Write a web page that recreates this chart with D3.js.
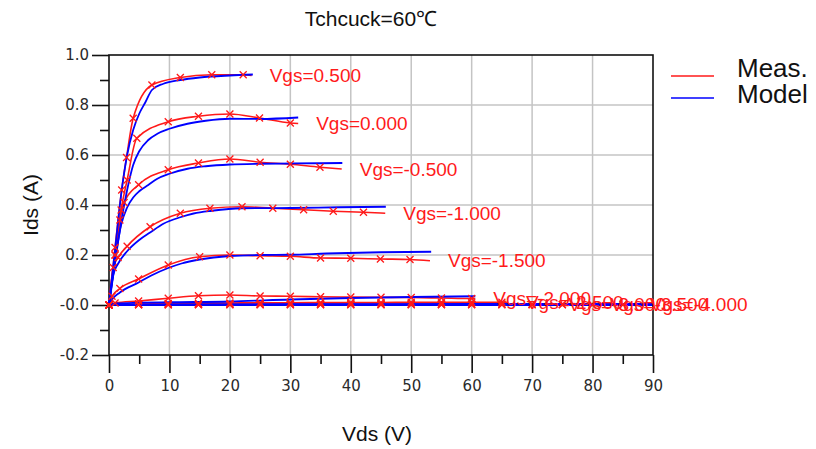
<!DOCTYPE html>
<html>
<head>
<meta charset="utf-8">
<script src="https://cdn.jsdelivr.net/npm/d3@7"></script>
<style>
  html, body { margin: 0; padding: 0; background: #fff; }
  svg { display: block; }
</style>
</head>
<body>
<svg id="chart" width="816" height="449"></svg>
<script>
// ---------- labels ----------
const chartTitle = "Tchcuck=60℃";
const xTitle = "Vds (V)";
const yTitle = "Ids (A)";
const legendNames = ["Meas.", "Model"];

const xTickValues = [0, 10, 20, 30, 40, 50, 60, 70, 80, 90];
const xTickLabels = ["0", "10", "20", "30", "40", "50", "60", "70", "80", "90"];
const xMinorTicks = [5, 15, 25, 35, 45, 55, 65, 75, 85];
const yTickValues = [-0.2, 0.0, 0.2, 0.4, 0.6, 0.8, 1.0];
const yTickLabels = ["-0.2", "-0.0", "0.2", "0.4", "0.6", "0.8", "1.0"];
const yMinorTicks = [-0.1, 0.1, 0.3, 0.5, 0.7, 0.9];

const vgsLabels = ["Vgs=0.500", "Vgs=0.000", "Vgs=-0.500", "Vgs=-1.000", "Vgs=-1.500",
                   "Vgs=-2.000", "Vgs=-2.500", "Vgs=-3.000", "Vgs=-3.500", "Vgs=-4.000"];

// ---------- measured Ids-Vds, [Vds (V), Ids (A)] ----------
const measVgsP050 = [[0,0],[1,0.23],[2.1,0.46],[2.9,0.59],[4,0.747],[7.1,0.88],[11.8,0.91],[17,0.921],[22.2,0.921],[23.6,0.918]];
const measVgs0000 = [[0,0],[1,0.2],[2,0.38],[3,0.5],[4.6,0.667],[9.8,0.733],[14.8,0.755],[20,0.764],[24.9,0.748],[30,0.728],[31.3,0.726]];
const measVgsN050 = [[0,0],[1,0.2],[1.8,0.34],[2.5,0.41],[4.9,0.481],[9.8,0.541],[14.8,0.568],[20,0.584],[25,0.571],[30,0.563],[34.9,0.551],[38.5,0.544]];
const measVgsN100 = [[0,0],[0.7,0.15],[1.5,0.19],[3,0.235],[6.8,0.313],[11.8,0.367],[16.7,0.387],[22,0.393],[27.1,0.387],[32.2,0.381],[37.1,0.375],[42.1,0.371],[45.7,0.367]];
const measVgsN150 = [[0,0],[0.5,0.035],[1.8,0.066],[4.9,0.104],[9.8,0.16],[15,0.193],[20,0.2],[25,0.197],[30,0.195],[35,0.188],[40,0.187],[44.9,0.184],[49.8,0.182],[53.1,0.177]];
const measVgsN200 = [[0,0],[1,0.008],[4.9,0.016],[9.8,0.027],[14.8,0.037],[20,0.04],[25,0.036],[30,0.035],[35,0.033],[40,0.032],[45,0.031],[50,0.03],[55,0.028],[60,0.026],[60.6,0.026]];
const measVgsN250 = [[0,0],[4.9,0.004],[9.8,0.006],[14.8,0.007],[20,0.008],[25,0.009],[30,0.009],[35,0.01],[40,0.01],[45,0.01],[50,0.011],[55,0.011],[60,0.011],[65,0.011],[66,0.011]];
const measVgsN300 = [[0,0],[4.9,0.002],[9.8,0.003],[14.8,0.003],[20,0.004],[25,0.004],[30,0.004],[35,0.004],[40,0.004],[45,0.004],[50,0.004],[55,0.004],[60,0.004],[65,0.004],[70,0.004],[73,0.004]];
const measVgsN350 = [[0,0],[4.9,0.001],[9.8,0.001],[14.8,0.002],[20,0.002],[25,0.002],[30,0.002],[35,0.002],[40,0.002],[45,0.002],[50,0.002],[55,0.002],[60,0.002],[65,0.002],[70,0.002],[75,0.002],[80,0.002]];
const measVgsN400 = [[0,0],[4.9,0.001],[9.8,0.001],[14.8,0.001],[20,0.001],[25,0.001],[30,0.001],[35,0.001],[40,0.001],[45,0.001],[50,0.001],[55,0.001],[60,0.001],[65,0.001],[70,0.001],[75,0.001],[80,0.001],[85,0.001],[86.5,0.001]];

// ---------- model Ids-Vds, [Vds (V), Ids (A)] ----------
const modelVgsP050 = [[0,0],[1,0.22],[2,0.44],[3,0.6],[4,0.7],[5,0.765],[6,0.81],[7.1,0.86],[9,0.885],[11.8,0.9],[15,0.91],[20,0.918],[23.8,0.922]];
const modelVgs0000 = [[0,0],[1,0.17],[2,0.33],[3,0.46],[4,0.56],[5,0.615],[6.5,0.66],[8,0.685],[10,0.705],[13,0.725],[16,0.737],[20,0.745],[25,0.744],[31.3,0.75]];
const modelVgsN050 = [[0,0],[1,0.18],[2,0.32],[3,0.39],[4,0.43],[5,0.455],[6.5,0.48],[8,0.505],[10,0.525],[13,0.545],[16,0.555],[20,0.562],[25,0.565],[30,0.566],[35,0.567],[38.6,0.568]];
const modelVgsN100 = [[0,0],[0.7,0.12],[1.5,0.165],[3,0.215],[5,0.26],[6.8,0.29],[9,0.325],[11.8,0.351],[14,0.366],[17,0.377],[22,0.387],[30,0.388],[38,0.391],[45.8,0.393]];
const modelVgsN150 = [[0,0],[0.5,0.022],[1.8,0.05],[4.9,0.09],[7,0.118],[9.8,0.148],[12,0.166],[15,0.182],[20,0.196],[25,0.2],[30,0.201],[36,0.206],[45,0.211],[53.3,0.213]];
const modelVgsN200 = [[0,0],[1,0.006],[5,0.009],[10,0.011],[20,0.014],[30,0.022],[40,0.028],[50,0.032],[60.6,0.035]];
const modelVgsN250 = [[0,0],[10,0.002],[30,0.003],[60,0.004],[90,0.004]];
const modelVgsN300 = [[0,0],[20,0.001],[90,0.002]];
const modelVgsN350 = [[0,0],[90,0.001]];
const modelVgsN400 = [[0,0],[90,0]];

const measured = [measVgsP050, measVgs0000, measVgsN050, measVgsN100, measVgsN150,
                  measVgsN200, measVgsN250, measVgsN300, measVgsN350, measVgsN400];
const modeled = [modelVgsP050, modelVgs0000, modelVgsN050, modelVgsN100, modelVgsN150,
                 modelVgsN200, modelVgsN250, modelVgsN300, modelVgsN350, modelVgsN400];

// ---------- drawing ----------
const RED = "#ff1a1a", BLUE = "#0000ff", GRID = "#c4c4c4";
const svg = d3.select("#chart");
const plotLeft = 109, plotRight = 653, plotTop = 55, plotBottom = 355;

const x = d3.scaleLinear().domain([0, 90]).range([plotLeft, plotRight]);
const y = d3.scaleLinear().domain([-0.2, 1.0]).range([plotBottom, plotTop]);

// grid
const grid = svg.append("g");
grid.selectAll("line.vx").data(xTickValues.slice(1, -1)).join("line")
  .attr("x1", d => x(d)).attr("x2", d => x(d))
  .attr("y1", y(-0.2)).attr("y2", y(1.0))
  .attr("stroke", GRID).attr("stroke-width", 1.5);
grid.selectAll("line.hy").data(yTickValues.slice(1, -1)).join("line")
  .attr("y1", d => y(d)).attr("y2", d => y(d))
  .attr("x1", x(0)).attr("x2", x(90))
  .attr("stroke", GRID).attr("stroke-width", 1.5);

// frame
svg.append("rect")
  .attr("x", x(0)).attr("y", y(1.0))
  .attr("width", x(90) - x(0)).attr("height", y(-0.2) - y(1.0))
  .attr("fill", "none").attr("stroke", "#111").attr("stroke-width", 1.6);

function styleAxis(g) {
  g.select(".domain").remove();
  g.selectAll(".tick line").attr("stroke", "#111").attr("stroke-width", 1.6);
  g.selectAll(".tick text")
    .attr("fill", "#2a2a2a")
    .style("font-family", "'DejaVu Sans', Verdana, sans-serif")
    .style("font-size", "15px");
}

svg.append("g").attr("transform", `translate(0,${plotBottom})`)
  .call(d3.axisBottom(x).tickValues(xTickValues)
    .tickFormat((d, i) => xTickLabels[i]).tickSize(18).tickPadding(7))
  .call(styleAxis);
svg.append("g").attr("transform", `translate(0,${plotBottom})`)
  .call(d3.axisBottom(x).tickValues(xMinorTicks).tickFormat("").tickSize(9))
  .call(styleAxis);
svg.append("g").attr("transform", `translate(${plotLeft},0)`)
  .call(d3.axisLeft(y).tickValues(yTickValues)
    .tickFormat((d, i) => yTickLabels[i]).tickSize(17).tickPadding(3))
  .call(styleAxis);
svg.append("g").attr("transform", `translate(${plotLeft},0)`)
  .call(d3.axisLeft(y).tickValues(yMinorTicks).tickFormat("").tickSize(9))
  .call(styleAxis);

// traces
const line = d3.line().x(d => x(d[0])).y(d => y(d[1])).curve(d3.curveMonotoneX);
const traces = svg.append("g");
traces.selectAll("path.meas").data(measured).join("path")
  .attr("class", "meas")
  .attr("d", line).attr("fill", "none")
  .attr("stroke", RED).attr("stroke-width", 1.6);
traces.selectAll("path.model").data(modeled).join("path")
  .attr("class", "model")
  .attr("d", line).attr("fill", "none")
  .attr("stroke", BLUE).attr("stroke-width", 1.8);

// measurement symbols (sweep end point carries no symbol)
const markPts = measured.flatMap(s => s.slice(0, -1));
traces.selectAll("path.mark").data(markPts).join("path")
  .attr("class", "mark")
  .attr("transform", d => `translate(${x(d[0])},${y(d[1])})`)
  .attr("d", "M-3.5,-3.5L3.5,3.5M-3.5,3.5L3.5,-3.5")
  .attr("stroke", RED).attr("stroke-width", 1.3).attr("fill", "none");

// trace labels at the end of each measured sweep
svg.append("g").selectAll("text").data(measured).join("text")
  .attr("x", d => x(d[d.length - 1][0]) + 18)
  .attr("y", d => y(d[d.length - 1][1]))
  .attr("dominant-baseline", "central")
  .attr("fill", RED)
  .style("font-family", "'Liberation Sans', Arial, sans-serif")
  .style("font-size", "19px")
  .text((d, i) => vgsLabels[i]);

// title and axis titles
svg.append("text").attr("x", 371).attr("y", 26).attr("text-anchor", "middle")
  .attr("fill", "#111")
  .style("font-family", "'Liberation Sans', Arial, sans-serif").style("font-size", "21px")
  .text(chartTitle);
svg.append("text").attr("x", 377).attr("y", 441).attr("text-anchor", "middle")
  .attr("fill", "#111")
  .style("font-family", "'Liberation Sans', Arial, sans-serif").style("font-size", "21px")
  .text(xTitle);
svg.append("text").attr("transform", "translate(38,205) rotate(-90)")
  .attr("text-anchor", "middle").attr("fill", "#111")
  .style("font-family", "'Liberation Sans', Arial, sans-serif").style("font-size", "21px")
  .text(yTitle);

// legend
const legendColors = [RED, BLUE];
const lg = svg.append("g");
legendNames.forEach((name, i) => {
  const ly = 76 + i * 22;
  lg.append("line").attr("x1", 671).attr("x2", 714).attr("y1", ly).attr("y2", ly)
    .attr("stroke", legendColors[i]).attr("stroke-width", 1.6);
  lg.append("text").attr("x", 737).attr("y", 77 + i * 26)
    .attr("fill", "#111")
    .style("font-family", "'Liberation Sans', Arial, sans-serif").style("font-size", "26px")
    .text(name);
});
</script>
</body>
</html>
